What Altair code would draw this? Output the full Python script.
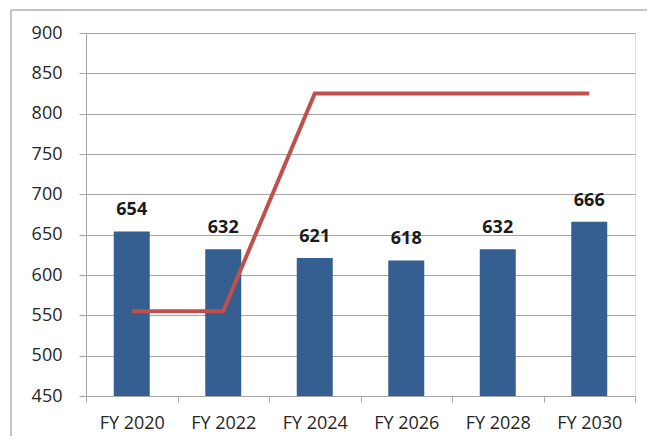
import altair as alt
import pandas as pd

categories = ["FY 2020", "FY 2022", "FY 2024", "FY 2026", "FY 2028", "FY 2030"]
bar_values = [654, 632, 621, 618, 632, 666]
line_values = [555, 555, 825, 825, 825, 825]
y_ticks = [450, 500, 550, 600, 650, 700, 750, 800, 850, 900]

df = pd.DataFrame({"cat": categories, "bar": bar_values, "line": line_values})

FONT = "Open Sans"
W, H = 549, 363

x_enc = alt.X(
    "cat:N",
    sort=categories,
    title=None,
    scale=alt.Scale(paddingInner=0, paddingOuter=0),
    axis=alt.Axis(
        tickBand="extent",
        labelAngle=0,
        labelFontSize=18,
        labelFont=FONT,
        labelColor="#262626",
        labelPadding=12,
        tickSize=6,
        tickColor="#A5A5A5",
        domainColor="#A5A5A5",
        grid=False,
    ),
)
y_scale = alt.Scale(domain=[450, 900], nice=False, zero=False)
y_enc = alt.Y(
    "bar:Q",
    title=None,
    scale=y_scale,
    axis=alt.Axis(
        values=y_ticks,
        labelFontSize=18,
        labelFont=FONT,
        labelColor="#262626",
        labelPadding=17,
        tickSize=7,
        tickColor="#A5A5A5",
        domainColor="#A5A5A5",
        gridColor="#A5A5A5",
        grid=True,
    ),
)

base = alt.Chart(df)
one = alt.Chart(pd.DataFrame({"a": [0]}))

border_top = one.mark_rule(stroke="#B0B0B0", strokeWidth=1.5, clip=False).encode(
    x=alt.value(-75), x2=alt.value(600), y=alt.value(-23)
)
border_left = one.mark_rule(stroke="#B0B0B0", strokeWidth=1.5, clip=False).encode(
    x=alt.value(-75), y=alt.value(-23), y2=alt.value(440)
)

bars = base.mark_bar(size=36, color="#355F91").encode(
    x=x_enc, y=y_enc, y2=alt.datum(450)
)

labels = base.mark_text(
    font=FONT, fontSize=18, fontWeight="bold", color="#1A1A1A",
    baseline="alphabetic", dy=-16
).encode(x=alt.X("cat:N", sort=categories), y=alt.Y("bar:Q", scale=y_scale), text="bar:Q")

line = base.mark_line(color="#C0504D", strokeWidth=4, strokeCap="butt").encode(
    x=alt.X("cat:N", sort=categories), y=alt.Y("line:Q", scale=y_scale)
)

chart = alt.layer(border_top, border_left, bars, labels, line).properties(
    width=W, height=H,
    padding={"left": 78, "top": 25, "right": 12, "bottom": 40},
    autosize=alt.AutoSizeParams(type="none"),
).configure_view(
    fill="#EEEBE0", stroke="transparent", strokeWidth=0
).configure(background="white")

chart.save("out.html", embed_options={"renderer": "svg", "actions": False})
